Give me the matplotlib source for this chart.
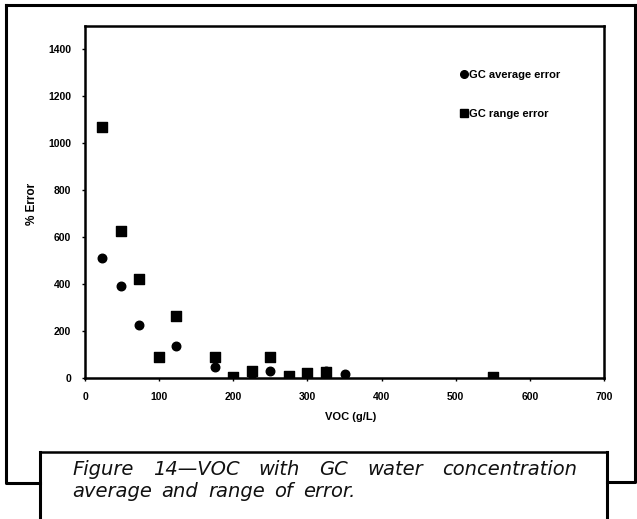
import matplotlib
matplotlib.use("Agg")
import matplotlib.pyplot as plt
from matplotlib.lines import Line2D

# Data
avg_x = [23, 48, 73, 123, 175, 200, 225, 250, 275, 300, 325, 350, 550]
avg_y = [510, 393, 225, 137, 47, 2, 15, 28, 5, 10, 30, 15, 2]
rng_x = [23, 48, 73, 100, 123, 175, 200, 225, 250, 275, 300, 325, 550]
rng_y = [1068, 625, 420, 90, 265, 90, 3, 28, 90, 10, 22, 25, 3]
xticks = [0, 100, 200, 300, 400, 500, 600, 700]
yticks = [0, 200, 400, 600, 800, 1000, 1200, 1400]
labels = ["GC average error", "GC range error"]
caption_lines = [["Figure", "14\u2014VOC", "with", "GC", "water", "concentration"],
                 ["average", "and", "range", "of", "error."]]

W, H = 637, 519
fig = plt.figure(figsize=(W / 100, H / 100), dpi=100)
fig.patch.set_facecolor("white")

def fx(px):
    return px / W

def fy(py):
    return 1 - py / H

ax = fig.add_axes([fx(85), fy(378), fx(604) - fx(85), fy(26) - fy(378)])
ax.scatter(avg_x, avg_y, marker="o", s=38, color="black", zorder=3)
ax.scatter(rng_x, rng_y, marker="s", s=42, color="black", zorder=3)
ax.set_xlim(0, 700)
ax.set_ylim(0, 1500)
ax.set_xticks(xticks)
ax.set_yticks(yticks)
ax.set_xticklabels([str(v) for v in xticks], fontsize=7.5, fontweight="bold", family="Liberation Sans")
ax.set_yticklabels([str(v) for v in yticks], fontsize=7.5, fontweight="bold", family="Liberation Sans")
ax.tick_params(axis="both", length=2, width=1, direction="out", pad=8)
for s in ax.spines.values():
    s.set_linewidth(1.8)
ax.set_xlabel("VOC (g/L)", fontsize=8, fontweight="bold", family="Liberation Sans")
ax.xaxis.set_label_coords((351 - 85) / (604 - 85), -(412 - 378) / (378 - 26))
ax.set_ylabel("% Error", fontsize=8.5, fontweight="bold", family="Liberation Sans")
ax.yaxis.set_label_coords(-(85 - 38) / (604 - 85), (378 - 204) / (378 - 26))

handles = [Line2D([], [], marker="o", color="black", linestyle="none", markersize=5.5),
           Line2D([], [], marker="s", color="black", linestyle="none", markersize=6)]
leg = ax.legend(handles, labels, loc="upper left",
                bbox_to_anchor=((458 - 85) / (604 - 85), 1 - (70 - 26) / (378 - 26)),
                frameon=False, handletextpad=0.0, handlelength=1.0, labelspacing=2.6,
                borderaxespad=0, borderpad=0,
                prop={"family": "Liberation Sans", "weight": "bold", "size": 8})

# Outer frame lines
def fline(xs, ys, lw=2.2):
    fig.add_artist(Line2D([fx(x) for x in xs], [fy(y) for y in ys], color="black", lw=lw,
                          transform=fig.transFigure, solid_capstyle="projecting"))

fline([6, 6, 40], [5, 483, 483])
fline([6, 635], [5, 5])
fline([635, 635, 607], [5, 482, 482])
# caption box
fline([40, 40], [452, 519])
fline([40, 607], [452, 452], lw=1.8)
fline([607, 607], [452, 519])

# Caption text (justified lines)
fig.canvas.draw()
renderer = fig.canvas.get_renderer()
left_px = 72
right_px = [577, 355]
baselines = [475, 497]
cap_font = dict(fontsize=14, style="italic", family="DejaVu Sans")
for li, words in enumerate(caption_lines):
    txts = [fig.text(0, 0, w, color="#111111", va="baseline", ha="left", **cap_font) for w in words]
    widths = [t.get_window_extent(renderer).width for t in txts]
    gap = (right_px[li] - left_px - sum(widths)) / (len(words) - 1)
    x = left_px
    for t, w in zip(txts, widths):
        t.set_position((fx(x), fy(baselines[li])))
        x += w + gap

fig.savefig("out.png", dpi=100, facecolor="white")
